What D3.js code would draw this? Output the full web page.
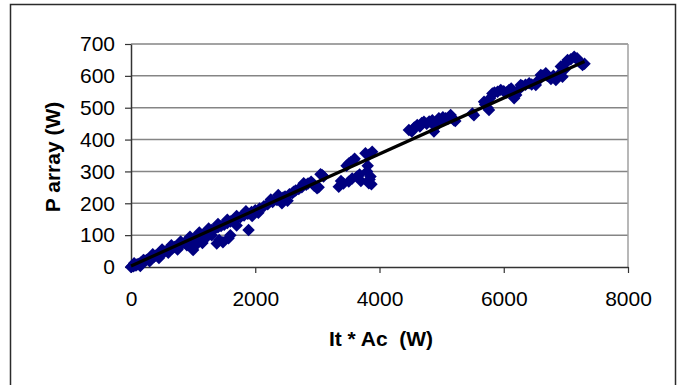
<!DOCTYPE html>
<html>
<head>
<meta charset="utf-8">
<script src="https://cdn.jsdelivr.net/npm/d3@7"></script>
<style>
  body { margin: 0; background: #fff; }
  svg { display: block; font-family: Arial, "Liberation Sans", sans-serif; }
</style>
</head>
<body>
<svg id="chart" width="679" height="385"></svg>
<script>
// tick labels
const xTicks = [0, 2000, 4000, 6000, 8000];
const yTicks = [0, 100, 200, 300, 400, 500, 600, 700];

// measured points: It*Ac (W) vs P array (W)
const itAc = [
  0, 20, 40, 60, 80, 100, 130, 160, 190, 220, 250, 280, 310, 340, 370, 400, 430, 470, 500, 540,
  580, 620, 660, 700, 740, 780, 820, 860, 900, 950, 1000, 1050, 1100, 1150, 1200, 1250, 1300, 1350, 1400, 1450,
  1500, 1550, 1600, 1650, 1700, 1760, 1820, 1880, 1940, 2000, 2070, 2140, 2200, 2280, 2350, 2450, 2550, 2650, 2750, 2850,
  150, 300, 450, 600, 750, 900, 1000, 1050, 1120, 1200, 1380, 1420, 1480, 1570, 1600, 1700, 1892, 1950, 2050, 2430,
  2370, 2250, 1300, 1150, 50, 200, 350, 500, 650, 800, 950, 1100, 1250, 1400, 1550, 1700, 1850,
  2618, 2780, 2995, 3075, 3344, 3505, 3505, 3586, 3640, 3828, 3855, 3774, 3882,
  4473, 4608, 4715, 4876, 4850, 4956, 5065, 5145, 5199, 5495,
  5683, 5763, 5817, 5952, 6086, 6167, 6274, 6409, 6516, 6597, 6677, 6839, 6946, 6919, 7027, 7134, 7269, 7215,
  2400, 2480, 2520, 2600, 2700, 2820, 2900, 2950, 3020, 3100, 3050,
  3380, 3420, 3470, 3540, 3600, 3560, 3680, 3700, 3800, 3810, 3830, 3840, 3870,
  4520, 4560, 4650, 4680, 4760, 4800, 4900, 4920, 5000, 5020, 5100, 5160, 5220, 5520,
  5700, 5740, 5780, 5850, 5900, 6000, 6050, 6120, 6200, 6230, 6300, 6350, 6450, 6550, 6620, 6700,
  6760, 6800, 6880, 6980, 7000, 7080, 7180, 7240, 7300
];
const pArray = [
  0, 3, 2, 6, 5, 9, 10, 14, 15, 20, 22, 24, 27, 31, 32, 36, 38, 41, 45, 48,
  52, 55, 58, 63, 66, 70, 72, 76, 80, 83, 89, 93, 98, 101, 107, 111, 116, 120, 125, 129,
  133, 138, 143, 147, 152, 156, 162, 167, 173, 178, 184, 191, 197, 204, 210, 218, 228, 240, 250, 262,
  3, 18, 28, 45, 55, 68, 53, 70, 82, 90, 74, 85, 78, 90, 100, 130, 116, 160, 170, 200,
  226, 212, 100, 75, 12, 22, 40, 55, 68, 80, 95, 108, 121, 135, 148, 160, 175,
  236, 263, 247, 289, 252, 268, 325, 336, 284, 263, 284, 357, 362,
  430, 446, 456, 425, 461, 467, 467, 477, 461, 482,
  519, 493, 545, 556, 556, 530, 571, 577, 571, 603, 608, 587, 597, 629, 650, 660, 634, 644,
  214, 221, 208, 232, 245, 258, 268, 255, 250, 284, 291,
  270, 262, 318, 330, 340, 278, 290, 270, 300, 318, 352, 275, 260,
  425, 438, 441, 452, 450, 457, 440, 450, 458, 470, 465, 470, 458, 476,
  510, 500, 530, 548, 550, 552, 548, 560, 540, 555, 568, 572, 573, 585, 600, 600,
  590, 600, 603, 620, 640, 652, 655, 640, 638
];

// linear trend line ends
const trendX = [0, 7300];
const trendY = [3, 645];

const svg = d3.select('#chart');

const plotL = 131, plotR = 628, plotT = 44, plotB = 267;

const x = d3.scaleLinear().domain([0, 8000]).range([plotL, plotR]);
const y = d3.scaleLinear().domain([0, 700]).range([plotB, plotT]);

// outer chart border
svg.append('rect')
  .attr('x', 10.5).attr('y', 4.5)
  .attr('width', 665).attr('height', 400)
  .attr('fill', 'none')
  .attr('stroke', '#2b2b2b')
  .attr('stroke-width', 1.5);

// horizontal gridlines
svg.append('g')
  .selectAll('line')
  .data(yTicks.filter(d => d > 0))
  .enter().append('line')
  .attr('x1', plotL).attr('x2', plotR)
  .attr('y1', d => y(d)).attr('y2', d => y(d))
  .attr('stroke', '#858585')
  .attr('stroke-width', 1.5);

// right plot border
svg.append('line')
  .attr('x1', plotR).attr('x2', plotR)
  .attr('y1', plotT).attr('y2', plotB)
  .attr('stroke', '#a0a0a0')
  .attr('stroke-width', 1.5);

// axes
const yAxis = svg.append('g')
  .attr('transform', `translate(${plotL},0)`)
  .call(d3.axisLeft(y).tickValues(yTicks).tickSize(6).tickPadding(10).tickSizeOuter(0));

const xAxis = svg.append('g')
  .attr('transform', `translate(0,${plotB})`)
  .call(d3.axisBottom(x).tickValues(xTicks).tickFormat(d3.format('d')).tickSize(6).tickPadding(18).tickSizeOuter(0));

[yAxis, xAxis].forEach(g => {
  g.select('.domain').attr('stroke', '#333').attr('stroke-width', 1.5);
  g.selectAll('.tick line').attr('stroke', '#333').attr('stroke-width', 1.2);
  g.selectAll('.tick text')
    .attr('fill', '#000')
    .style('font-size', '21px')
    .style('font-family', 'Arial, "Liberation Sans", sans-serif');
});

// scatter points
const pts = itAc.map((v, i) => [v, pArray[i]]);
const diamond = d3.symbol().type(d3.symbolSquare).size(78);

svg.append('g')
  .selectAll('path')
  .data(pts)
  .enter().append('path')
  .attr('d', diamond)
  .attr('transform', d => `translate(${x(d[0])},${y(d[1])}) rotate(45)`)
  .attr('fill', '#000080');

// trend line
svg.append('path')
  .datum(trendX.map((v, i) => [v, trendY[i]]))
  .attr('d', d3.line().x(d => x(d[0])).y(d => y(d[1])))
  .attr('fill', 'none')
  .attr('stroke', '#000')
  .attr('stroke-width', 3.2);

// axis titles
svg.append('text')
  .attr('transform', 'translate(53,157) rotate(-90)')
  .attr('dy', '0.35em')
  .attr('text-anchor', 'middle')
  .style('font-size', '21px')
  .style('font-weight', 'bold')
  .text('P array (W)');

svg.append('text')
  .attr('x', 381).attr('y', 346)
  .attr('text-anchor', 'middle')
  .style('font-size', '21px')
  .style('font-weight', 'bold')
  .style('white-space', 'pre')
  .text('It * Ac  (W)');
</script>
</body>
</html>
